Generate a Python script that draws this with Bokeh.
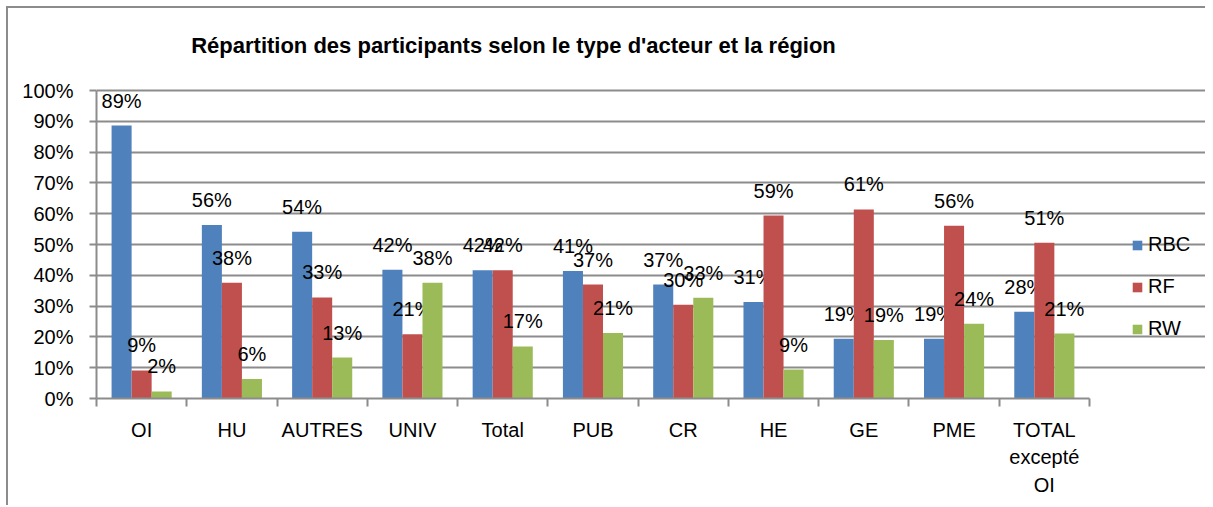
from bokeh.plotting import figure
from bokeh.models import (ColumnDataSource, Range1d, FixedTicker, NumeralTickFormatter,
                          Legend, LegendItem, Label)
from bokeh.embed import file_html
from bokeh.resources import INLINE
from bokeh.core.properties import value

# ---- data ----
categories = ["OI", "HU", "AUTRES", "UNIV", "Total", "PUB", "CR", "HE", "GE", "PME",
              "TOTAL excepté OI"]
category_labels = ["OI", "HU", "AUTRES", "UNIV", "Total", "PUB", "CR", "HE", "GE", "PME",
                   "TOTAL\nexcepté\nOI"]
series = ["RBC", "RF", "RW"]
rbc = [0.886, 0.563, 0.541, 0.418, 0.416, 0.414, 0.370, 0.313, 0.194, 0.194, 0.282]
rf = [0.091, 0.376, 0.328, 0.209, 0.416, 0.370, 0.304, 0.594, 0.614, 0.561, 0.506]
rw = [0.023, 0.063, 0.133, 0.376, 0.169, 0.213, 0.327, 0.094, 0.190, 0.243, 0.211]
y_ticks = [i / 10 for i in range(11)]
title = "Répartition des participants selon le type d'acteur et la région"

# ---- style / layout ----
colors = ["#4F81BD", "#C0504D", "#9BBB59"]
FONT = "Liberation Sans"
GRID = "#8c8c8c"
FS = "20px"
W, H = 1205, 505
LEFT, BOTTOM = 96, 107
PX_PER_CAT = 90.27
PX_PER_UNIT = 308.0
frame_w, frame_h = W - LEFT, H - BOTTOM
n = len(categories)

p = figure(width=W, height=H,
           x_range=Range1d(0, frame_w / PX_PER_CAT),
           y_range=Range1d(0, frame_h / PX_PER_UNIT),
           output_backend="svg", toolbar_location=None,
           min_border_left=LEFT, min_border_right=0, min_border_top=0,
           min_border_bottom=BOTTOM)
p.outline_line_color = None
p.background_fill_alpha = 0
p.border_fill_alpha = 0
p.styles = {"box-shadow": "inset 6px 6px 0 0 white, inset 8px 8px 0 0 #8c8c8c",
            "background-color": "white"}

bar_w = 0.222
offsets = [-bar_w, 0.0, bar_w]
items = []
for name, vals, col, off in zip(series, [rbc, rf, rw], colors, offsets):
    xs = [i + 0.5 + off for i in range(n)]
    src = ColumnDataSource(dict(x=xs, top=vals,
                                label=[f"{round(v * 100)}%" for v in vals]))
    r = p.vbar(x="x", top="top", bottom=0, width=bar_w, source=src,
               fill_color=col, line_color=None)
    p.text(x="x", y="top", text="label", source=src, text_align="center",
           text_baseline="alphabetic", y_offset=-25, text_font=value(FONT),
           text_font_size=FS, text_color="black")
    items.append(LegendItem(label=name, renderers=[r]))

# grid
p.xgrid.visible = False
p.ygrid.ticker = FixedTicker(ticks=y_ticks)
p.ygrid.bounds = (0, n)
p.ygrid.grid_line_color = GRID
p.ygrid.grid_line_width = 2

# y axis
p.yaxis.ticker = FixedTicker(ticks=y_ticks)
p.yaxis.bounds = (0, 1)
p.yaxis.formatter = NumeralTickFormatter(format="0%")
p.yaxis.axis_line_color = GRID
p.yaxis.axis_line_width = 2
p.yaxis.major_tick_line_color = GRID
p.yaxis.major_tick_line_width = 2
p.yaxis.major_tick_out = 7
p.yaxis.major_tick_in = 0
p.yaxis.minor_tick_line_color = None
p.yaxis.major_label_standoff = 16
p.yaxis.major_label_text_font = FONT
p.yaxis.major_label_text_font_size = FS
p.yaxis.major_label_text_color = "black"

# x axis
centers = [i + 0.5 for i in range(n)]
p.xaxis.ticker = FixedTicker(ticks=centers, minor_ticks=list(range(n + 1)))
p.xaxis.bounds = (0, n)
p.xaxis.major_label_overrides = {c: lab for c, lab in zip(centers, category_labels)}
p.xaxis.major_tick_line_color = None
p.xaxis.minor_tick_line_color = GRID
p.xaxis.minor_tick_line_width = 2
p.xaxis.minor_tick_out = 8
p.xaxis.minor_tick_in = 0
p.xaxis.axis_line_color = GRID
p.xaxis.axis_line_width = 2
p.xaxis.major_label_standoff = 12
p.xaxis.major_label_text_font = FONT
p.xaxis.major_label_text_font_size = FS
p.xaxis.major_label_text_line_height = 1.25
p.xaxis.major_label_text_color = "black"

# legend (inside the frame area, right of the bars)
legend = Legend(items=items, location=(1035, 58), orientation="vertical",
                glyph_width=12, glyph_height=12, label_text_font=FONT,
                label_text_font_size=FS, label_text_color="black", spacing=19,
                padding=0, margin=0, border_line_color=None,
                background_fill_alpha=0, label_standoff=5)
p.add_layout(legend)

# title
p.add_layout(Label(x=417, y=353, x_units="screen", y_units="screen", text=title,
                   text_align="center", text_baseline="middle", text_font=FONT,
                   text_font_style="bold", text_font_size="22px", text_color="black"))

open("out.html", "w").write(file_html(p, INLINE))
